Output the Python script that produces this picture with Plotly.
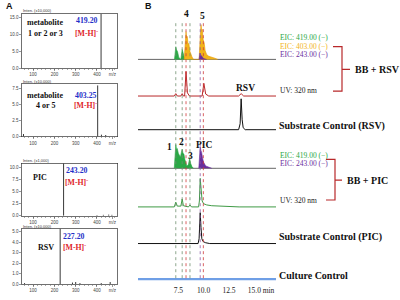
import plotly.graph_objects as go

W, H = 400, 300
def fx(px): return px / W
def fy(py): return 1 - py / H

# ---------------- Panel A: MS spectra ----------------
ms1_mz = [419.20]
ms1_int = [16.2]
ms2_mz = [55, 403.25, 421, 441]
ms2_int = [0.4, 7.9, 0.3, 0.25]
ms3_mz = [243.20, 400, 430, 455, 470]
ms3_int = [10.8, 0.15, 0.2, 0.25, 0.2]
ms4_mz = [60, 227.20, 285, 300, 320, 420, 462]
ms4_int = [0.1, 5.3, 0.15, 0.2, 0.1, 0.1, 0.2]

ms_x_ticks = [100, 200, 300, 400, 472]
ms_x_labels = ["100", "200", "300", "400", "m/z"]
ms1_y_ticks = [0, 5, 10, 15]
ms2_y_ticks = [0, 2.5, 5, 7.5]
ms3_y_ticks = [0, 2.5, 5, 7.5, 10]
ms4_y_ticks = [0, 1, 2, 3, 4, 5]

# ---------------- Panel B: chromatograms (min, relative intensity) ----------------
t_start, t_end = 3.52, 17.14
b_x_ticks = [7.5, 10.0, 12.5, 15.0, 16.4]
b_x_labels = ["7.5", "10.0", "12.5", "15.0", "min"]

eic419_rsv_t = [7.12, 7.25, 7.33, 7.42, 7.55, 7.75, 7.88, 7.96, 8.05, 8.15, 8.5, 8.65, 8.75, 8.9]
eic419_rsv_i = [0, 32, 24, 20, 5, 0, 25, 18, 8, 0, 0, 7, 3, 0]
eic403_rsv_t = [8.08, 8.2, 8.26, 8.32, 8.38, 8.45, 8.55, 8.65, 8.75, 8.85, 9.0,
                9.55, 9.66, 9.74, 9.8, 9.86, 9.95, 10.05, 10.15, 10.3, 10.5, 10.8, 11.1, 11.4]
eic403_rsv_i = [0, 40, 70, 55, 58, 42, 38, 20, 12, 6, 0,
                0, 55, 88, 72, 76, 50, 42, 22, 12, 8, 6, 3, 0]
eic243_rsv_t = [9.55, 9.64, 9.72, 9.85, 10.0, 10.3]
eic243_rsv_i = [0, 16, 11, 6, 2, 0]

uv_rsv_t = [3.52, 7.1, 7.25, 7.4, 7.75, 7.88, 8.0, 8.12, 8.26, 8.4, 8.6, 9.85, 10.02, 10.2,
            10.5, 13.45, 13.7, 13.95, 17.14]
uv_rsv_i = [0, 0, 6, 0, 0, 6, 0, 0, 62, 8, 0, 0, 32, 5, 0, 0, 6, 0, 0]

sub_rsv_t = [3.52, 13.45, 13.6, 13.7, 13.8, 13.9, 14.1, 17.14]
sub_rsv_i = [0, 0, 15, 78, 25, 5, 0, 0]

eic419_pic_t = [7.1, 7.18, 7.25, 7.32, 7.4, 7.5, 7.6, 7.7, 7.8, 7.88, 7.96, 8.05, 8.15, 8.25,
                8.35, 8.5, 8.62, 8.72, 8.85, 9.0]
eic419_pic_i = [0, 45, 60, 48, 50, 38, 30, 28, 40, 48, 38, 36, 22, 10, 5, 10, 25, 12, 4, 0]
eic243_pic_t = [9.52, 9.6, 9.66, 9.72, 9.8, 9.9, 10.0, 10.2, 10.5, 10.8]
eic243_pic_i = [0, 38, 55, 46, 40, 25, 15, 6, 2, 0]

uv_pic_t = [3.52, 7.1, 7.25, 7.4, 7.75, 7.88, 8.0, 8.5, 8.65, 8.8, 9.5, 9.58, 9.66, 9.75,
            9.85, 10.0, 10.3, 10.8, 11.5, 12.5, 13.5, 17.14]
uv_pic_i = [0, 0, 12, 2, 2, 20, 3, 0, 5, 0, 0, 15, 72, 35, 15, 8, 5, 3, 2, 1, 0, 0]

sub_pic_t = [3.52, 9.45, 9.55, 9.66, 9.74, 9.82, 9.95, 10.2, 10.6, 17.14]
sub_pic_i = [0, 0, 12, 78, 40, 12, 5, 2, 0, 0]

cc_t = [3.52, 17.14]
cc_i = [0, 0]

marker_lines_t = [7.25, 7.88, 8.26, 8.65, 9.66, 9.97]
marker_lines_c = ["#6f8f6f", "#6f8f6f", "#d03a3a", "#6f8f6f", "#8a5aa8", "#d03a3a"]

# colours
GREEN = "#2aa845"
ORANGE = "#f2b41a"
ORANGE_L = "#e59a00"
PURPLE = "#6a2f9e"
RED = "#b8282a"
UVGREEN = "#3f9a45"
BLUE = "#6f9fe6"
SERIF = "Liberation Serif"

fig = go.Figure()

# ---- panel A axes ----
boxes = [
    (ms1_mz, ms1_int, 14, 69, 16.2, ms1_y_ticks),
    (ms2_mz, ms2_int, 85, 138, 8.1, ms2_y_ticks),
    (ms3_mz, ms3_int, 165, 218, 10.8, ms3_y_ticks),
    (ms4_mz, ms4_int, 231, 287, 5.28, ms4_y_ticks),
]
for k, (mz, it, top, bot, ymax, yt) in enumerate(boxes):
    n = "" if k == 0 else str(k + 1)
    xs, ys = [], []
    for m, v in zip(mz, it):
        xs += [m, m, None]
        ys += [0, v, None]
    fig.add_trace(go.Scatter(x=xs, y=ys, mode="lines", line=dict(color="#222", width=0.9),
                             xaxis="x" + n, yaxis="y" + n, showlegend=False, hoverinfo="skip"))
    common = dict(showline=True, mirror=True, linecolor="#333", linewidth=0.7, ticks="outside",
                  ticklen=2, tickwidth=0.5, tickcolor="#333", showgrid=False, zeroline=False,
                  tickfont=dict(size=4.5, color="#444", family="Liberation Sans"))
    fig.update_layout(**{
        "xaxis" + n: dict(domain=[fx(22), fx(117)], range=[48, 494], anchor="y" + n,
                          tickvals=ms_x_ticks, ticktext=ms_x_labels, tickangle=0,
                          minor=dict(ticks="outside", ticklen=1, dtick=20, tickcolor="#555"),
                          **common),
        "yaxis" + n: dict(domain=[fy(bot), fy(top)], range=[0, ymax], anchor="x" + n,
                          tickvals=yt, tickformat=".1f", **common),
    })

# ---- panel B ----
rows = [60, 97, 131, 170, 209, 246, 282]
for r, b in enumerate(rows):
    idx = 6 + r
    fig.update_layout(**{
        "yaxis%d" % idx: dict(domain=[fy(b + 2), fy(b - 40)], range=[-5, 100], visible=False,
                              anchor="x5", fixedrange=True)
    })
fig.update_layout(xaxis5=dict(domain=[fx(138), fx(276)], range=[t_start, t_end], anchor="free",
                              position=fy(287), showline=False, showgrid=False, zeroline=False,
                              ticks="", tickvals=b_x_ticks, ticktext=b_x_labels, tickangle=0,
                              tickfont=dict(size=7.5, color="#222", family=SERIF)))

def line(t, i, ax, color, width=1.0, fill=None, fillcolor=None):
    fig.add_trace(go.Scatter(x=t, y=i, mode="lines", xaxis="x5", yaxis="y%d" % ax,
                             line=dict(color=color, width=width), fill=fill, fillcolor=fillcolor,
                             showlegend=False, hoverinfo="skip"))

# row 1 : EIC BB+RSV
line(cc_t, cc_i, 6, "#555", 0.9)
line(eic419_rsv_t, eic419_rsv_i, 6, GREEN, 0.6, "tozeroy", GREEN)
line(eic403_rsv_t, eic403_rsv_i, 6, ORANGE_L, 0.6, "tozeroy", ORANGE)
line(eic243_rsv_t, eic243_rsv_i, 6, PURPLE, 0.6, "tozeroy", PURPLE)
# row 2 : UV BB+RSV
line(uv_rsv_t, uv_rsv_i, 7, RED, 1.0)
# row 3 : substrate RSV
line(sub_rsv_t, sub_rsv_i, 8, "#111", 1.0)
# row 4 : EIC BB+PIC
line(cc_t, cc_i, 9, "#555", 0.9)
line(eic419_pic_t, eic419_pic_i, 9, GREEN, 0.6, "tozeroy", GREEN)
line(eic243_pic_t, eic243_pic_i, 9, PURPLE, 0.6, "tozeroy", PURPLE)
# row 5 : UV BB+PIC
line(uv_pic_t, uv_pic_i, 10, UVGREEN, 1.0)
# row 6 : substrate PIC
line(sub_pic_t, sub_pic_i, 11, "#111", 1.0)
# row 7 : culture control
line(cc_t, cc_i, 12, BLUE, 2.2)

shapes = []
for t, c in zip(marker_lines_t, marker_lines_c):
    shapes.append(dict(type="line", xref="x5", yref="paper", x0=t, x1=t, y0=fy(281), y1=fy(22),
                       line=dict(color=c, width=0.8, dash="dot")))

def bracket(xl, xv, xt, ytop, ymid, ybot):
    p = "M %f,%f L %f,%f L %f,%f L %f,%f M %f,%f L %f,%f" % (
        fx(xl), fy(ytop), fx(xv), fy(ytop), fx(xv), fy(ybot), fx(xl), fy(ybot),
        fx(xv), fy(ymid), fx(xt), fy(ymid))
    return dict(type="path", xref="paper", yref="paper", path=p, line=dict(color=RED, width=1.2))

shapes.append(bracket(333, 342, 350, 47, 70, 92))
shapes.append(bracket(326, 335, 342, 161, 182, 202))
fig.update_layout(shapes=shapes)

ann = []
def txt(x, y, s, size, color="#111", bold=False, anchor="center", family=SERIF):
    ann.append(dict(x=fx(x), y=fy(y), xref="paper", yref="paper", showarrow=False,
                    text=("<b>%s</b>" % s) if bold else s, xanchor=anchor, yanchor="middle",
                    font=dict(size=size, color=color, family=family)))

# panel labels
txt(4, 6, "A", 9, bold=True, anchor="left", family="Liberation Sans")
txt(143, 6, "B", 9, bold=True, anchor="left", family="Liberation Sans")

# panel A texts
for (y, s) in [(11, "Inten. (x10,000)"), (82.5, "Inten. (x10,000)"), (162, "Inten. (x1,000)"),
               (228.5, "Inten. (x10,000)")]:
    txt(21, y, s, 4, "#333", anchor="left", family="Liberation Sans")
txt(45, 23, "metabolite", 8, bold=True)
txt(45, 34, "1 or 2 or 3", 8, bold=True)
txt(86.5, 21, "419.20", 7.8, "#1f2fc8", bold=True)
txt(86.5, 33, "[M-H]<sup>-</sup>", 7.8, "#e0262a", bold=True)
txt(45, 96, "metabolite", 8, bold=True)
txt(45, 107, "4 or 5", 8, bold=True)
txt(85.5, 96, "403.25", 7.8, "#1f2fc8", bold=True)
txt(85.5, 106, "[M-H]<sup>-</sup>", 7.8, "#e0262a", bold=True)
txt(40, 179, "PIC", 8, bold=True)
txt(76.5, 172.5, "243.20", 7.8, "#1f2fc8", bold=True)
txt(76.5, 183.5, "[M-H]<sup>-</sup>", 7.8, "#e0262a", bold=True)
txt(46, 250, "RSV", 8, bold=True)
txt(74, 238.5, "227.20", 7.8, "#1f2fc8", bold=True)
txt(74, 249.5, "[M-H]<sup>-</sup>", 7.8, "#e0262a", bold=True)

# panel B texts
txt(186, 14, "4", 9.5, bold=True)
txt(203, 16, "5", 9.5, bold=True)
txt(245, 89, "RSV", 9.5, bold=True)
txt(169, 148, "1", 9.5, bold=True)
txt(181, 143, "2", 9.5, bold=True)
txt(190, 158, "3", 9.5, bold=True)
txt(205, 146, "PIC", 9.5, bold=True)

txt(278, 38, "EIC: 419.00 (\u2212)", 7.5, GREEN, anchor="left")
txt(278, 46.5, "EIC: 403.00 (\u2212)", 7.5, ORANGE, anchor="left")
txt(278, 55, "EIC: 243.00 (\u2212)", 7.5, PURPLE, anchor="left")
txt(278, 91, "UV: 320 nm", 7.5, "#222", anchor="left")
txt(353, 70, "BB + RSV", 10, bold=True, anchor="left")
txt(277, 127, "Substrate Control (RSV)", 10, bold=True, anchor="left")
txt(278, 157, "EIC: 419.00 (\u2212)", 7.5, GREEN, anchor="left")
txt(278, 165.5, "EIC: 243.00 (\u2212)", 7.5, PURPLE, anchor="left")
txt(278, 203, "UV: 320 nm", 7.5, "#222", anchor="left")
txt(345, 182, "BB + PIC", 10, bold=True, anchor="left")
txt(277, 239, "Substrate Control (PIC)", 10, bold=True, anchor="left")
txt(277, 278, "Culture Control", 10, bold=True, anchor="left")
fig.update_layout(annotations=ann)

fig.update_layout(width=W, height=H, margin=dict(l=0, r=0, t=0, b=0), paper_bgcolor="white",
                  plot_bgcolor="rgba(0,0,0,0)", showlegend=False)
fig.write_html("out.html", config={"displayModeBar": False, "staticPlot": True},
               post_script="document.body.style.margin='0';document.body.style.overflow='hidden';")
